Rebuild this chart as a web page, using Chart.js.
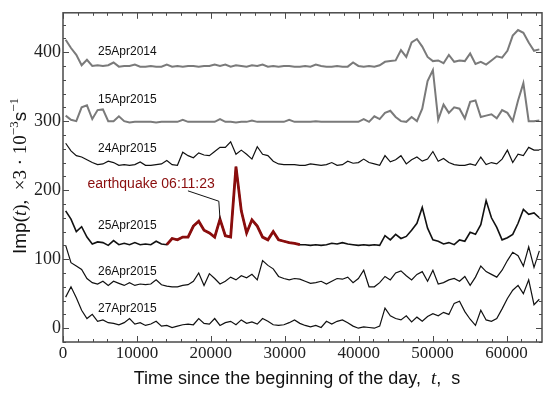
<!DOCTYPE html>
<html>
<head>
<meta charset="utf-8">
<script src="https://cdn.jsdelivr.net/npm/chart.js@4"></script>
<style>
  html, body { margin: 0; padding: 0; background: #fff; }
  #wrap { width: 550px; height: 393px; position: relative; }
</style>
</head>
<body>
<div id="wrap"><canvas id="myChart"></canvas></div>
<script>
// sampling grid, seconds since midnight
const times = [360, 1080, 1800, 2520, 3240, 3960, 4680, 5400, 6120, 6840,
  7560, 8280, 9000, 9720, 10440, 11160, 11880, 12600, 13320, 14040,
  14760, 15480, 16200, 16920, 17640, 18360, 19080, 19800, 20520, 21240,
  21960, 22680, 23400, 24120, 24840, 25560, 26280, 27000, 27720, 28440,
  29160, 29880, 30600, 31320, 32040, 32760, 33480, 34200, 34920, 35640,
  36360, 37080, 37800, 38520, 39240, 39960, 40680, 41400, 42120, 42840,
  43560, 44280, 45000, 45720, 46440, 47160, 47880, 48600, 49320, 50040,
  50760, 51480, 52200, 52920, 53640, 54360, 55080, 55800, 56520, 57240,
  57960, 58680, 59400, 60120, 60840, 61560, 62280, 63000, 63720, 64440];

const seriesNames = ["25Apr2014", "15Apr2015", "24Apr2015", "25Apr2015", "26Apr2015", "27Apr2015"];

const s25Apr2014 = [418, 406, 396, 381, 389, 380, 381, 380, 381, 385,
  379, 380, 380, 382, 379, 379, 380, 379, 379, 382,
  379, 380, 379, 380, 380, 379, 380, 380, 382, 380,
  382, 379, 381, 380, 379, 381, 380, 382, 379, 380,
  379, 380, 380, 379, 379, 380, 379, 382, 380, 379,
  379, 380, 379, 379, 385, 380, 379, 380, 379, 381,
  386, 387, 388, 403, 393, 414, 419, 408, 393, 387,
  388, 384, 396, 386, 388, 387, 398, 383, 386, 382,
  388, 394, 392, 402, 424, 432, 428, 414, 402, 404];

const s15Apr2015 = [308, 302, 300, 320, 323, 303, 316, 317, 300, 300,
  307, 300, 298, 299, 299, 299, 299, 298, 299, 299,
  299, 299, 302, 299, 299, 299, 299, 299, 299, 303,
  299, 299, 298, 299, 299, 301, 299, 299, 299, 299,
  299, 299, 302, 299, 299, 299, 299, 300, 299, 299,
  299, 299, 299, 299, 299, 299, 303, 299, 307, 303,
  312, 315, 306, 300, 299, 306, 300, 318, 358, 374,
  302, 324, 312, 320, 318, 304, 328, 330, 306, 308,
  310, 304, 316, 312, 300, 330, 355, 300, 300, 301];

const s24Apr2015 = [268, 257, 250, 248, 244, 240, 237, 238, 242, 240,
  236, 237, 236, 237, 241, 236, 236, 237, 238, 243,
  237, 236, 255, 250, 247, 254, 251, 250, 256, 262,
  262, 270, 252, 258, 252, 245, 263, 252, 250, 242,
  238, 237, 237, 237, 236, 236, 238, 237, 236, 237,
  240, 236, 237, 242, 239, 240, 245, 240, 238, 236,
  250, 241, 244, 250, 238, 244, 248, 242, 245, 256,
  242, 246, 240, 237, 236, 236, 238, 236, 248, 237,
  240, 238, 245, 258, 240, 252, 250, 262, 258, 258];

const s25Apr2015 = [170, 158, 140, 147, 132, 122, 125, 124, 120, 127,
  121, 123, 121, 124, 121, 122, 121, 126, 122, 121,
  130, 128, 132, 132, 148, 155, 142, 138, 132, 158,
  134, 132, 234, 170, 138, 157, 148, 132, 128, 140,
  128, 126, 124, 123, 121, 121, 120, 121, 120, 121,
  123, 122, 124, 122, 121, 120, 121, 120, 121, 120,
  134, 128, 136, 130, 133, 142, 152, 175, 145, 128,
  126, 122, 124, 121, 128, 126, 139, 136, 150, 185,
  160, 146, 128, 131, 136, 152, 172, 165, 167, 160];

const s26Apr2015 = [120, 95, 90, 85, 72, 66, 64, 68, 62, 68,
  65, 62, 66, 62, 64, 63, 64, 70, 63, 61,
  60, 60, 62, 63, 68, 80, 62, 79, 72, 64,
  68, 74, 70, 76, 73, 78, 70, 98, 91, 86,
  75, 72, 70, 72, 71, 68, 65, 66, 68, 64,
  68, 72, 71, 74, 66, 72, 84, 60, 60, 66,
  75, 70, 80, 83, 76, 70, 78, 82, 68, 84,
  64, 66, 70, 72, 68, 75, 62, 74, 90, 82,
  78, 74, 84, 98, 110, 105, 90, 118, 88, 112];

const s27Apr2015 = [45, 60, 44, 26, 14, 20, 10, 12, 8, 7,
  5, 8, 14, 6, 8, 4, 6, 10, 3, 4,
  1, 3, 5, 6, 5, 14, 7, 6, 14, 4,
  8, 10, 5, 12, 7, 9, 6, 14, 10, 5,
  4, 5, 8, 12, 7, 4, 2, 4, 1, 10,
  6, 10, 12, 8, 3, 0, 2, 1, 0, 3,
  29, 18, 14, 12, 18, 9, 16, 10, 17, 21,
  18, 23, 20, 36, 39, 24, 13, 4, 26, 12,
  10, 14, 28, 43, 55, 62, 50, 70, 34, 42];

// earthquake window on 25Apr2015 (indices into times)
const quakeFrom = 19, quakeTo = 44;

const xTicks = [0, 10000, 20000, 30000, 40000, 50000, 60000];
const yTicks = [0, 100, 200, 300, 400];

const GRAY = '#7a7a7a', BLACK = '#111111', RED = '#8a0d0d';

const toPoints = vals => times.map((t, i) => ({ x: t, y: vals[i] }));

// label anchors in data units (time, value)
const labelAt = { t: 4730, v: [401, 331, 260, 148, 82, 28] };

const decor = {
  id: 'decor',
  afterDatasetsDraw(chart) {
    const { ctx, chartArea: a, scales: { x, y } } = chart;
    ctx.save();
    // frame
    ctx.strokeStyle = '#4a4a4a';
    ctx.lineWidth = 1.5;
    ctx.strokeRect(a.left, a.top, a.right - a.left, a.bottom - a.top);
    // inward ticks, all four sides
    ctx.lineWidth = 1;
    ctx.beginPath();
    for (let v = 0; v <= x.max; v += 2000) {
      const px = Math.round(x.getPixelForValue(v)) + 0.5;
      const len = v % 10000 === 0 ? 6 : 3;
      ctx.moveTo(px, a.bottom); ctx.lineTo(px, a.bottom - len);
      ctx.moveTo(px, a.top); ctx.lineTo(px, a.top + len);
    }
    for (let v = -20; v <= y.max; v += 20) {
      const py = Math.round(y.getPixelForValue(v)) + 0.5;
      const len = v % 100 === 0 ? 6 : 3;
      ctx.moveTo(a.left, py); ctx.lineTo(a.left + len, py);
      ctx.moveTo(a.right, py); ctx.lineTo(a.right - len, py);
    }
    ctx.stroke();

    // series names
    ctx.fillStyle = '#111';
    ctx.font = '12px "Liberation Sans", Arial, sans-serif';
    ctx.textBaseline = 'middle';
    ctx.textAlign = 'left';
    seriesNames.forEach((n, i) => {
      ctx.fillText(n, x.getPixelForValue(labelAt.t), y.getPixelForValue(labelAt.v[i]));
    });

    // earthquake note
    ctx.fillStyle = RED;
    ctx.font = '14px "Liberation Sans", Arial, sans-serif';
    ctx.fillText('earthquake 06:11:23', x.getPixelForValue(3300), y.getPixelForValue(209));
    ctx.strokeStyle = BLACK;
    ctx.lineWidth = 1;
    ctx.beginPath();
    ctx.moveTo(x.getPixelForValue(16900), y.getPixelForValue(199));
    ctx.lineTo(x.getPixelForValue(21080), y.getPixelForValue(184));
    ctx.lineTo(x.getPixelForValue(21240), y.getPixelForValue(158));
    ctx.stroke();
    ctx.restore();
  },
  afterDraw(chart) {
    const ctx = chart.ctx;
    ctx.save();
    ctx.fillStyle = '#111';
    ctx.textBaseline = 'alphabetic';
    ctx.textAlign = 'left';

    // x title
    const xs = [
      { t: 'Time since the beginning of the day,  ', f: '18px "Liberation Sans", Arial, sans-serif' },
      { t: 't', f: 'italic 19px "Liberation Serif", serif' },
      { t: ',  s', f: '18px "Liberation Sans", Arial, sans-serif' }
    ];
    let w = 0;
    xs.forEach(s => { ctx.font = s.f; w += ctx.measureText(s.t).width; });
    let cx = 297 - w / 2;
    xs.forEach(s => { ctx.font = s.f; ctx.fillText(s.t, cx, 384); cx += ctx.measureText(s.t).width; });

    // y title, rotated
    const ys = [
      { t: 'Imp', f: '19px "Liberation Sans", Arial, sans-serif', dy: 0 },
      { t: '(', f: '19px "Liberation Serif", serif', dy: 0 },
      { t: 't', f: 'italic 19px "Liberation Serif", serif', dy: 0 },
      { t: '),  ×3 · 10', f: '19px "Liberation Serif", serif', dy: 0 },
      { t: '−3', f: '13px "Liberation Serif", serif', dy: -8 },
      { t: 's', f: '19px "Liberation Sans", Arial, sans-serif', dy: 0 },
      { t: '−1', f: '13px "Liberation Serif", serif', dy: -8 }
    ];
    w = 0;
    ys.forEach(s => { ctx.font = s.f; w += ctx.measureText(s.t).width; });
    ctx.translate(26, 176);
    ctx.rotate(-Math.PI / 2);
    cx = -w / 2;
    ys.forEach(s => { ctx.font = s.f; ctx.fillText(s.t, cx, s.dy); cx += ctx.measureText(s.t).width; });
    ctx.restore();
  }
};

const lineSet = (label, vals, color, width, order) => ({
  label, data: toPoints(vals), borderColor: color, borderWidth: width, order
});

const quakePart = toPoints(s25Apr2015).slice(quakeFrom, quakeTo + 1);

new Chart('myChart', {
  type: 'line',
  data: {
    datasets: [
      { label: 'earthquake', data: quakePart, borderColor: RED, borderWidth: 2.8, order: 0 },
      lineSet(seriesNames[0], s25Apr2014, GRAY, 2, 1),
      lineSet(seriesNames[1], s15Apr2015, GRAY, 2, 1),
      lineSet(seriesNames[2], s24Apr2015, BLACK, 1.2, 1),
      lineSet(seriesNames[3], s25Apr2015, BLACK, 1.6, 1),
      lineSet(seriesNames[4], s26Apr2015, BLACK, 1.2, 1),
      lineSet(seriesNames[5], s27Apr2015, BLACK, 1.2, 1)
    ]
  },
  options: {
    responsive: true,
    maintainAspectRatio: false,
    animation: false,
    events: [],
    layout: { padding: { top: 7, right: 8, left: 0, bottom: 0 } },
    elements: { point: { radius: 0 }, line: { tension: 0, fill: false } },
    plugins: { legend: { display: false }, tooltip: { enabled: false } },
    scales: {
      x: {
        type: 'linear', min: 0, max: 64800,
        grid: { display: false, drawTicks: false },
        border: { display: false },
        afterFit: s => { s.height = 51; },
        afterBuildTicks: s => { s.ticks = xTicks.map(v => ({ value: v })); },
        ticks: {
          color: '#222', padding: 1, maxRotation: 0, autoSkip: false,
          font: { family: '"Liberation Serif", serif', size: 17 },
          callback: v => String(v)
        }
      },
      y: {
        type: 'linear', min: -20, max: 457,
        grid: { display: false, drawTicks: false },
        border: { display: false },
        afterFit: s => { s.width = 63; },
        afterBuildTicks: s => { s.ticks = yTicks.map(v => ({ value: v })); },
        ticks: {
          color: '#222', padding: 2, autoSkip: false,
          font: { family: '"Liberation Serif", serif', size: 18 },
          callback: v => String(v)
        }
      }
    }
  },
  plugins: [decor]
});
</script>
</body>
</html>
